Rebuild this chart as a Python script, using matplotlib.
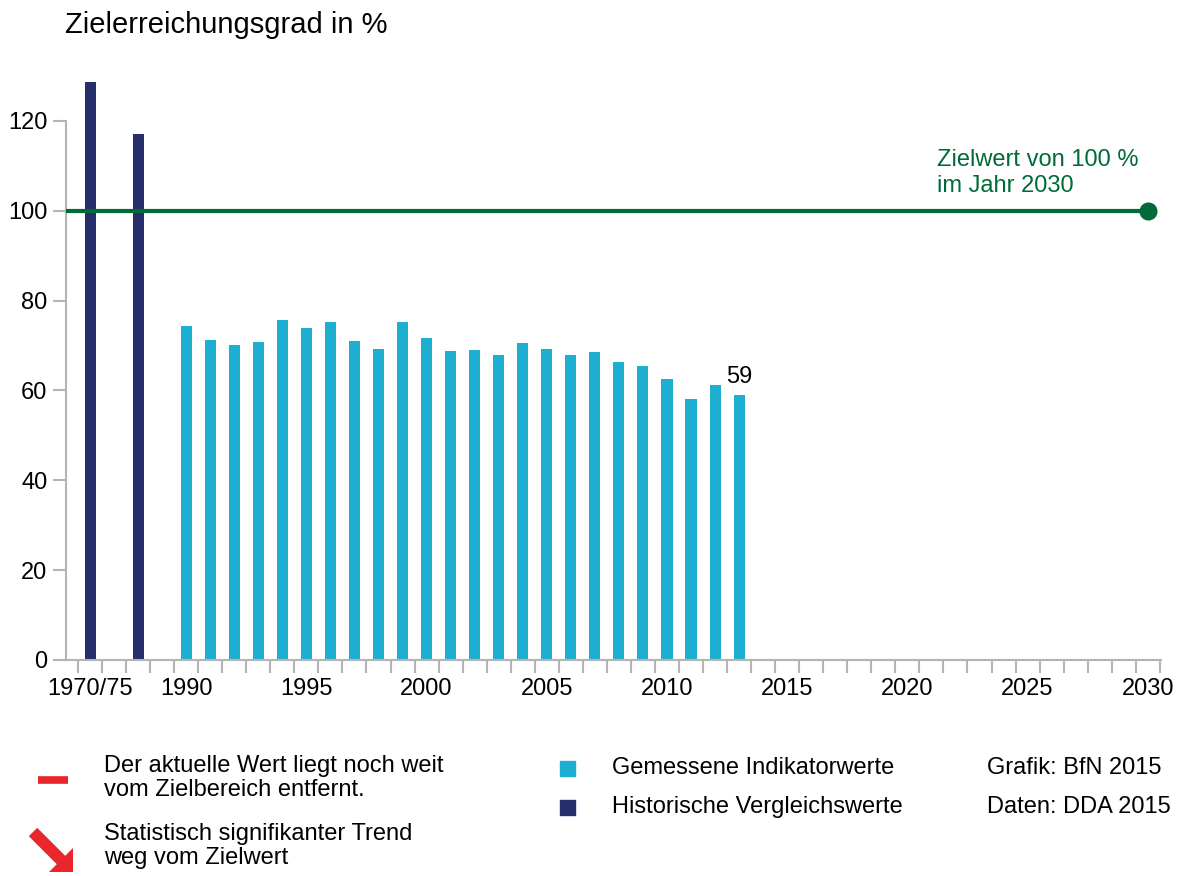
import numpy as np
import matplotlib
matplotlib.use("Agg")
import matplotlib.pyplot as plt
from matplotlib.patches import Rectangle, Polygon
from matplotlib.lines import Line2D

plt.rcParams['font.family'] = ['Liberation Sans', 'DejaVu Sans']

# ---- data ----
hist_pos = [1986, 1988]
hist_vals = [128.7, 117.2]
years = list(range(1990, 2014))
values = [74.4, 71.2, 70.1, 70.8, 75.7, 73.9, 75.2, 71.1, 69.3, 75.2, 71.6, 68.7,
          68.9, 67.8, 70.6, 69.2, 68.0, 68.6, 66.3, 65.4, 62.5, 58.2, 61.3, 59.0]
label_pos = [1986, 1990, 1995, 2000, 2005, 2010, 2015, 2020, 2025, 2030]
label_txt = ['1970/75', '1990', '1995', '2000', '2005', '2010', '2015', '2020', '2025', '2030']
target_value = 100
target_years = [1985, 2030]
yticks = [0, 20, 40, 60, 80, 100, 120]

CYAN = '#1DAFD1'
NAVY = '#262F6B'
GREEN = '#006A38'
RED = '#E8262B'
GRAY = '#B4B4B4'

W, H = 1181, 876
fig = plt.figure(figsize=(W / 100, H / 100), dpi=100)
ax = fig.add_axes([66 / W, 1 - 660 / H, (1161 - 66) / W, (660 - 76) / H])

ax.bar(hist_pos, hist_vals, width=0.46, color=NAVY, zorder=2)
ax.bar(years, values, width=0.46, color=CYAN, zorder=2)
ax.plot(target_years, [target_value] * 2, color=GREEN, lw=3.0, zorder=3,
        solid_capstyle='butt', clip_on=False)
ax.plot([target_years[-1]], [target_value], 'o', color=GREEN, ms=12, zorder=4,
        clip_on=False)
ax.text(years[-1], values[-1] + 4.0, f"{values[-1]:.0f}", fontsize=17,
        ha='center', va='center', color='black')

ax.set_xlim(1985, 2030.55)
ax.set_ylim(0, 130)
for s in ['top', 'right']:
    ax.spines[s].set_visible(False)
for s in ['left', 'bottom']:
    ax.spines[s].set_color(GRAY)
    ax.spines[s].set_linewidth(1.5)
ax.spines['left'].set_bounds(0, 120)

ax.set_yticks(yticks)
ax.set_yticklabels([str(v) for v in yticks], fontsize=17)
ax.tick_params(axis='y', length=9.5, width=1.5, color=GRAY, pad=4)

ax.set_xticks(np.arange(1985.5, 2031, 1.0))
ax.set_xticklabels([])
ax.tick_params(axis='x', which='major', length=9.5, width=1.5, color=GRAY,
               direction='out')
ax.set_xticks(label_pos, minor=True)
ax.set_xticklabels(label_txt, minor=True, fontsize=17)
ax.tick_params(axis='x', which='minor', length=0, pad=13)

# title
fig.text(65 / W, 1 - 25 / H, 'Zielerreichungsgrad in %', fontsize=21,
         ha='left', va='center')
# target text
fig.text(937 / W, 1 - 160 / H, 'Zielwert von 100 %', fontsize=17, color=GREEN,
         ha='left', va='center')
fig.text(937 / W, 1 - 186 / H, 'im Jahr 2030', fontsize=17, color=GREEN,
         ha='left', va='center')

# bottom legend: red dash
fig.add_artist(Line2D([38 / W, 68 / W], [1 - 780 / H] * 2, color=RED, lw=5.5,
                      solid_capstyle='butt', transform=fig.transFigure))
fig.text(104 / W, 1 - 766 / H, 'Der aktuelle Wert liegt noch weit', fontsize=17,
         ha='left', va='center')
fig.text(104 / W, 1 - 790 / H, 'vom Zielbereich entfernt.', fontsize=17,
         ha='left', va='center')
arrow_px = [(37.2, 827.8), (65.2, 855.8), (73, 848), (73, 872), (49, 872),
            (56.8, 864.2), (28.8, 836.2)]
fig.add_artist(Polygon([(x / W, 1 - y / H) for x, y in arrow_px], closed=True,
                       color=RED, lw=0, transform=fig.transFigure))
fig.text(104 / W, 1 - 834 / H, 'Statistisch signifikanter Trend', fontsize=17,
         ha='left', va='center')
fig.text(104 / W, 1 - 858 / H, 'weg vom Zielwert', fontsize=17,
         ha='left', va='center')

# series legend
sq = 15
for yc, col, txt in [(768, CYAN, 'Gemessene Indikatorwerte'),
                     (807, NAVY, 'Historische Vergleichswerte')]:
    fig.add_artist(Rectangle((560 / W, 1 - (yc + sq / 2) / H), sq / W, sq / H,
                             color=col, transform=fig.transFigure))
    fig.text(612 / W, 1 - yc / H, txt, fontsize=17, ha='left', va='center')

fig.text(987 / W, 1 - 768 / H, 'Grafik: BfN 2015', fontsize=17, ha='left', va='center')
fig.text(987 / W, 1 - 807 / H, 'Daten: DDA 2015', fontsize=17, ha='left', va='center')

fig.savefig('out.png', dpi=100)
